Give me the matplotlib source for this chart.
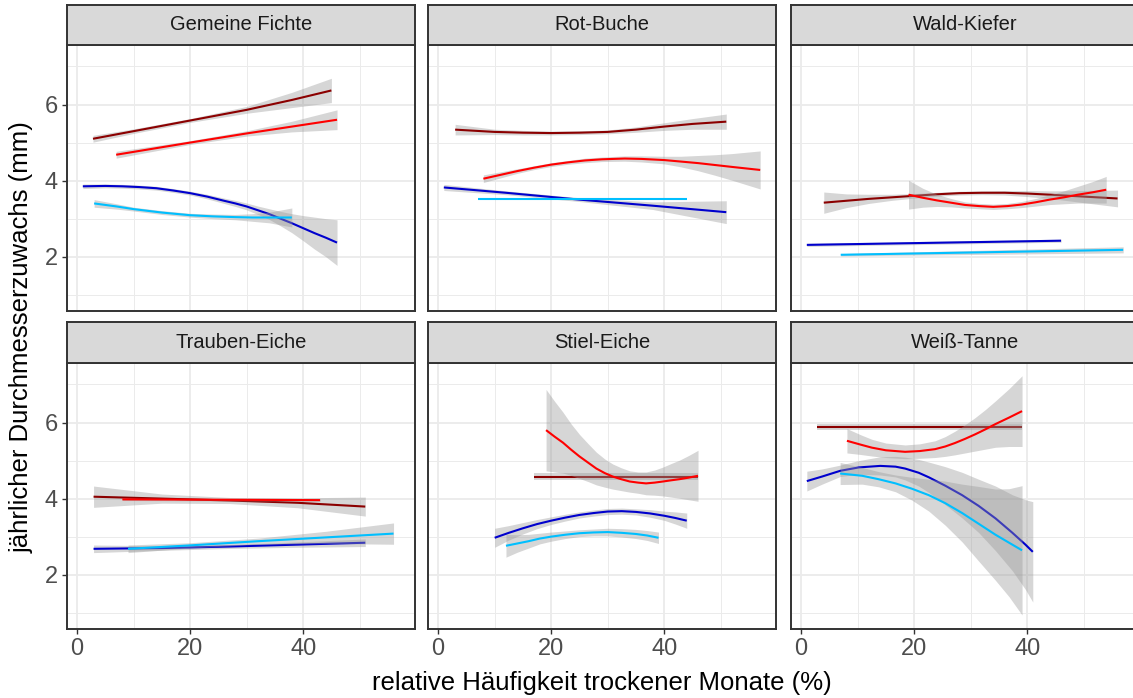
import numpy as np
import matplotlib.pyplot as plt

plt.rcParams['font.family'] = ['Liberation Sans', 'DejaVu Sans']

species = ["Gemeine Fichte", "Rot-Buche", "Wald-Kiefer",
           "Trauben-Eiche", "Stiel-Eiche", "Weiß-Tanne"]
group_colors = ["#8B0000", "#FF0000", "#0000CD", "#00BFFF"]

x_ticks = [0, 20, 40]
y_ticks = [2, 4, 6]

# each entry: (relative Häufigkeit %, fitted Zuwachs mm, half width of band)
fichte_darkred = [(2.8, 5.10, 0.09), (10, 5.30, 0.06), (20, 5.58, 0.05), (30, 5.86, 0.09),
                  (38, 6.12, 0.2), (45, 6.37, 0.32)]
fichte_red = [(6.9, 4.68, 0.09), (20, 5.00, 0.05), (30, 5.24, 0.07), (38, 5.42, 0.14), (46, 5.60, 0.26)]
fichte_blue = [(1, 3.85, 0.06), (5, 3.86, 0.05), (8, 3.85, 0.05), (11, 3.83, 0.05), (14, 3.80, 0.05),
               (17, 3.74, 0.05), (20, 3.67, 0.05), (23, 3.58, 0.06), (26, 3.47, 0.07), (28, 3.40, 0.08),
               (30, 3.32, 0.09), (32, 3.22, 0.11), (34, 3.12, 0.14), (36, 3.00, 0.19), (38, 2.88, 0.25),
               (40, 2.75, 0.33), (42, 2.62, 0.42), (44, 2.50, 0.5), (46, 2.37, 0.6)]
fichte_skyblue = [(3, 3.40, 0.1), (7, 3.32, 0.07), (10, 3.25, 0.05), (15, 3.16, 0.05), (20, 3.09, 0.05),
                  (24, 3.06, 0.06), (28, 3.04, 0.07), (31, 3.03, 0.1), (34, 3.03, 0.14), (38, 3.03, 0.25)]

buche_darkred = [(3, 5.34, 0.14), (10, 5.28, 0.07), (15, 5.26, 0.06), (20, 5.25, 0.05), (25, 5.26, 0.05),
                 (30, 5.28, 0.05), (35, 5.34, 0.07), (40, 5.42, 0.1), (45, 5.49, 0.14), (51, 5.55, 0.2)]
buche_red = [(8, 4.05, 0.1), (11, 4.15, 0.08), (14, 4.25, 0.06), (17, 4.34, 0.05), (20, 4.42, 0.05),
             (23, 4.48, 0.05), (26, 4.53, 0.06), (29, 4.56, 0.06), (33, 4.58, 0.07), (36, 4.57, 0.08),
             (40, 4.54, 0.1), (43, 4.50, 0.14), (46, 4.46, 0.2), (49, 4.41, 0.27), (52, 4.36, 0.35),
             (57, 4.28, 0.5)]
buche_blue = [(1, 3.82, 0.08), (12, 3.68, 0.05), (25, 3.50, 0.05), (38, 3.34, 0.1), (51, 3.17, 0.3)]
buche_skyblue = [(7, 3.51, 0.02), (44, 3.51, 0.02)]

kiefer_darkred = [(4, 3.42, 0.28), (8, 3.47, 0.18), (12, 3.52, 0.12), (16, 3.56, 0.08), (20, 3.60, 0.06),
                  (24, 3.64, 0.05), (28, 3.67, 0.05), (32, 3.68, 0.05), (36, 3.68, 0.06), (40, 3.66, 0.08),
                  (44, 3.63, 0.1), (50, 3.58, 0.16), (56, 3.53, 0.22)]
kiefer_red = [(19, 3.63, 0.38), (21.5, 3.55, 0.25), (24, 3.48, 0.16), (26.5, 3.42, 0.11), (29, 3.36, 0.08),
              (31.5, 3.33, 0.07), (34, 3.31, 0.07), (36.5, 3.33, 0.07), (39, 3.37, 0.08), (41.5, 3.43, 0.1),
              (44, 3.50, 0.13), (46.5, 3.56, 0.17), (49, 3.63, 0.22), (51.5, 3.69, 0.28), (54, 3.76, 0.35)]
kiefer_blue = [(1, 2.31, 0.04), (46, 2.42, 0.04)]
kiefer_skyblue = [(7, 2.05, 0.03), (57, 2.18, 0.08)]

traubeneiche_darkred = [(2.9, 4.05, 0.28), (15, 4.00, 0.12), (27, 3.95, 0.08), (39, 3.89, 0.13), (51, 3.79, 0.25)]
traubeneiche_red = [(8, 3.98, 0.03), (43, 3.96, 0.03)]
traubeneiche_blue = [(2.9, 2.68, 0.1), (15, 2.70, 0.06), (27, 2.74, 0.05), (39, 2.79, 0.07), (51, 2.84, 0.1)]
traubeneiche_skyblue = [(9, 2.68, 0.1), (20, 2.77, 0.07), (32, 2.88, 0.08), (44, 2.98, 0.16), (56, 3.08, 0.28)]

stieleiche_darkred = [(17, 4.58, 0.1), (46, 4.58, 0.1)]
stieleiche_red = [(19.1, 5.80, 1.07), (20.6, 5.63, 0.93), (22.1, 5.47, 0.8), (23.5, 5.29, 0.68), (25, 5.11, 0.58),
                  (26.5, 4.95, 0.5), (28, 4.79, 0.43), (29.5, 4.67, 0.37), (30.9, 4.58, 0.33), (32.4, 4.51, 0.3),
                  (33.9, 4.45, 0.28), (35.4, 4.42, 0.28), (36.8, 4.40, 0.3), (38.3, 4.42, 0.33),
                  (39.8, 4.45, 0.38), (41.2, 4.48, 0.44), (42.7, 4.51, 0.5), (44.3, 4.55, 0.58), (46, 4.60, 0.67)]
stieleiche_blue = [(10, 2.97, 0.25), (12.5, 3.10, 0.19), (15, 3.22, 0.15), (17.5, 3.33, 0.12), (20, 3.42, 0.1),
                   (22.5, 3.50, 0.09), (25, 3.57, 0.08), (27.5, 3.62, 0.08), (30, 3.66, 0.08),
                   (32.5, 3.67, 0.08), (35, 3.65, 0.08), (37.5, 3.61, 0.1), (40, 3.55, 0.12),
                   (42, 3.49, 0.16), (44, 3.42, 0.2)]
stieleiche_skyblue = [(12, 2.76, 0.3), (14, 2.82, 0.23), (16, 2.88, 0.18), (18, 2.95, 0.14), (20, 3.00, 0.12),
                      (22.5, 3.05, 0.1), (25, 3.09, 0.09), (27.5, 3.11, 0.09), (30, 3.12, 0.1),
                      (32.5, 3.10, 0.11), (35, 3.07, 0.12), (37, 3.03, 0.13), (39, 2.97, 0.15)]

tanne_darkred = [(2.8, 5.89, 0.08), (39.1, 5.89, 0.08)]
tanne_red = [(8.1, 5.52, 0.32), (10.5, 5.42, 0.26), (12.5, 5.34, 0.22), (15, 5.27, 0.19), (18.4, 5.23, 0.18),
             (21, 5.25, 0.19), (23.7, 5.30, 0.22), (25.5, 5.37, 0.26), (27.2, 5.46, 0.31), (29, 5.57, 0.37),
             (30.8, 5.69, 0.44), (32.6, 5.82, 0.52), (34.4, 5.96, 0.61), (36.8, 6.13, 0.76), (39.1, 6.30, 0.93)]
tanne_blue = [(1, 4.46, 0.26), (3.7, 4.58, 0.2), (6.9, 4.73, 0.15), (10.2, 4.82, 0.18), (14, 4.86, 0.24),
              (16.7, 4.84, 0.27), (18.4, 4.79, 0.3), (20.8, 4.68, 0.35), (22.6, 4.56, 0.4), (25.5, 4.34, 0.5),
              (28.5, 4.09, 0.6), (31.4, 3.81, 0.7), (34.4, 3.48, 0.85), (37.4, 3.10, 1.0), (39.7, 2.79, 1.18),
              (41, 2.60, 1.32)]
tanne_skyblue = [(6.9, 4.66, 0.29), (10.8, 4.60, 0.22), (13.7, 4.51, 0.2), (16.7, 4.40, 0.22),
                 (19.6, 4.26, 0.3), (22.6, 4.09, 0.42), (25.5, 3.88, 0.58), (28.5, 3.62, 0.76),
                 (31.4, 3.34, 0.98), (34.4, 3.05, 1.2), (36.8, 2.84, 1.42), (39.1, 2.64, 1.7)]

panel_series = {
    "Gemeine Fichte": [fichte_darkred, fichte_red, fichte_blue, fichte_skyblue],
    "Rot-Buche": [buche_darkred, buche_red, buche_blue, buche_skyblue],
    "Wald-Kiefer": [kiefer_darkred, kiefer_red, kiefer_blue, kiefer_skyblue],
    "Trauben-Eiche": [traubeneiche_darkred, traubeneiche_red, traubeneiche_blue, traubeneiche_skyblue],
    "Stiel-Eiche": [stieleiche_darkred, stieleiche_red, stieleiche_blue, stieleiche_skyblue],
    "Weiß-Tanne": [tanne_darkred, tanne_red, tanne_blue, tanne_skyblue],
}

W, H = 1133, 698
fig = plt.figure(figsize=(W / 100, H / 100), dpi=100)

col_left = [67, 428, 791]
row_top = [45, 363]
panel_w, panel_h, strip_h = 348, 265.5, 40.5
border = "#333333"

for i, name in enumerate(species):
    row, col = divmod(i, 3)
    left, top = col_left[col], row_top[row]
    ax = fig.add_axes([left / W, 1 - (top + panel_h) / H, panel_w / W, panel_h / H])
    strip = fig.add_axes([left / W, 1 - top / H, panel_w / W, strip_h / H])

    # ribbon then line per group, so later ribbons tint earlier lines
    for k, series in enumerate(panel_series[name]):
        arr = np.array(series)
        x, y, se = arr[:, 0], arr[:, 1], arr[:, 2]
        ax.fill_between(x, y - se, y + se, color="#999999", alpha=0.4, lw=0, zorder=3 + 2 * k)
        ax.plot(x, y, color=group_colors[k], lw=1.5, solid_capstyle="butt",
                solid_joinstyle="round", zorder=4 + 2 * k)

    ax.set_xlim(-1.8, 59.8)
    ax.set_ylim(0.585, 7.565)
    ax.set_xticks(x_ticks)
    ax.set_xticks([10, 30, 50], minor=True)
    ax.set_yticks(y_ticks)
    ax.set_yticks([1, 3, 5, 7], minor=True)
    ax.grid(which="major", color="#EBEBEB", lw=1.3)
    ax.grid(which="minor", color="#EBEBEB", lw=0.7)
    ax.set_axisbelow(True)
    for sp in ax.spines.values():
        sp.set_color(border)
        sp.set_linewidth(1.4)
        sp.set_zorder(30)
    ax.tick_params(which="major", length=3.8, width=1.0, color=border,
                   labelsize=17, labelcolor="#4D4D4D", pad=3)
    ax.tick_params(which="minor", length=0)
    if col > 0:
        ax.tick_params(axis="y", which="both", left=False, labelleft=False)
    if row == 0:
        ax.tick_params(axis="x", which="both", bottom=False, labelbottom=False)

    strip.set_facecolor("#D9D9D9")
    strip.set_xticks([])
    strip.set_yticks([])
    for sp in strip.spines.values():
        sp.set_color(border)
        sp.set_linewidth(1.4)
    strip.text(0.5, 0.5, name, ha="center", va="center", fontsize=14.5,
               color="#1A1A1A", transform=strip.transAxes)

fig.text(602 / W, 1 - 683 / H, "relative Häufigkeit trockener Monate (%)",
         ha="center", va="center", fontsize=18.5, color="black")
fig.text(22 / W, 1 - 337 / H, "jährlicher Durchmesserzuwachs (mm)",
         ha="center", va="center", rotation=90, fontsize=18.5, color="black")

fig.savefig("out.png", dpi=100, facecolor="white")
